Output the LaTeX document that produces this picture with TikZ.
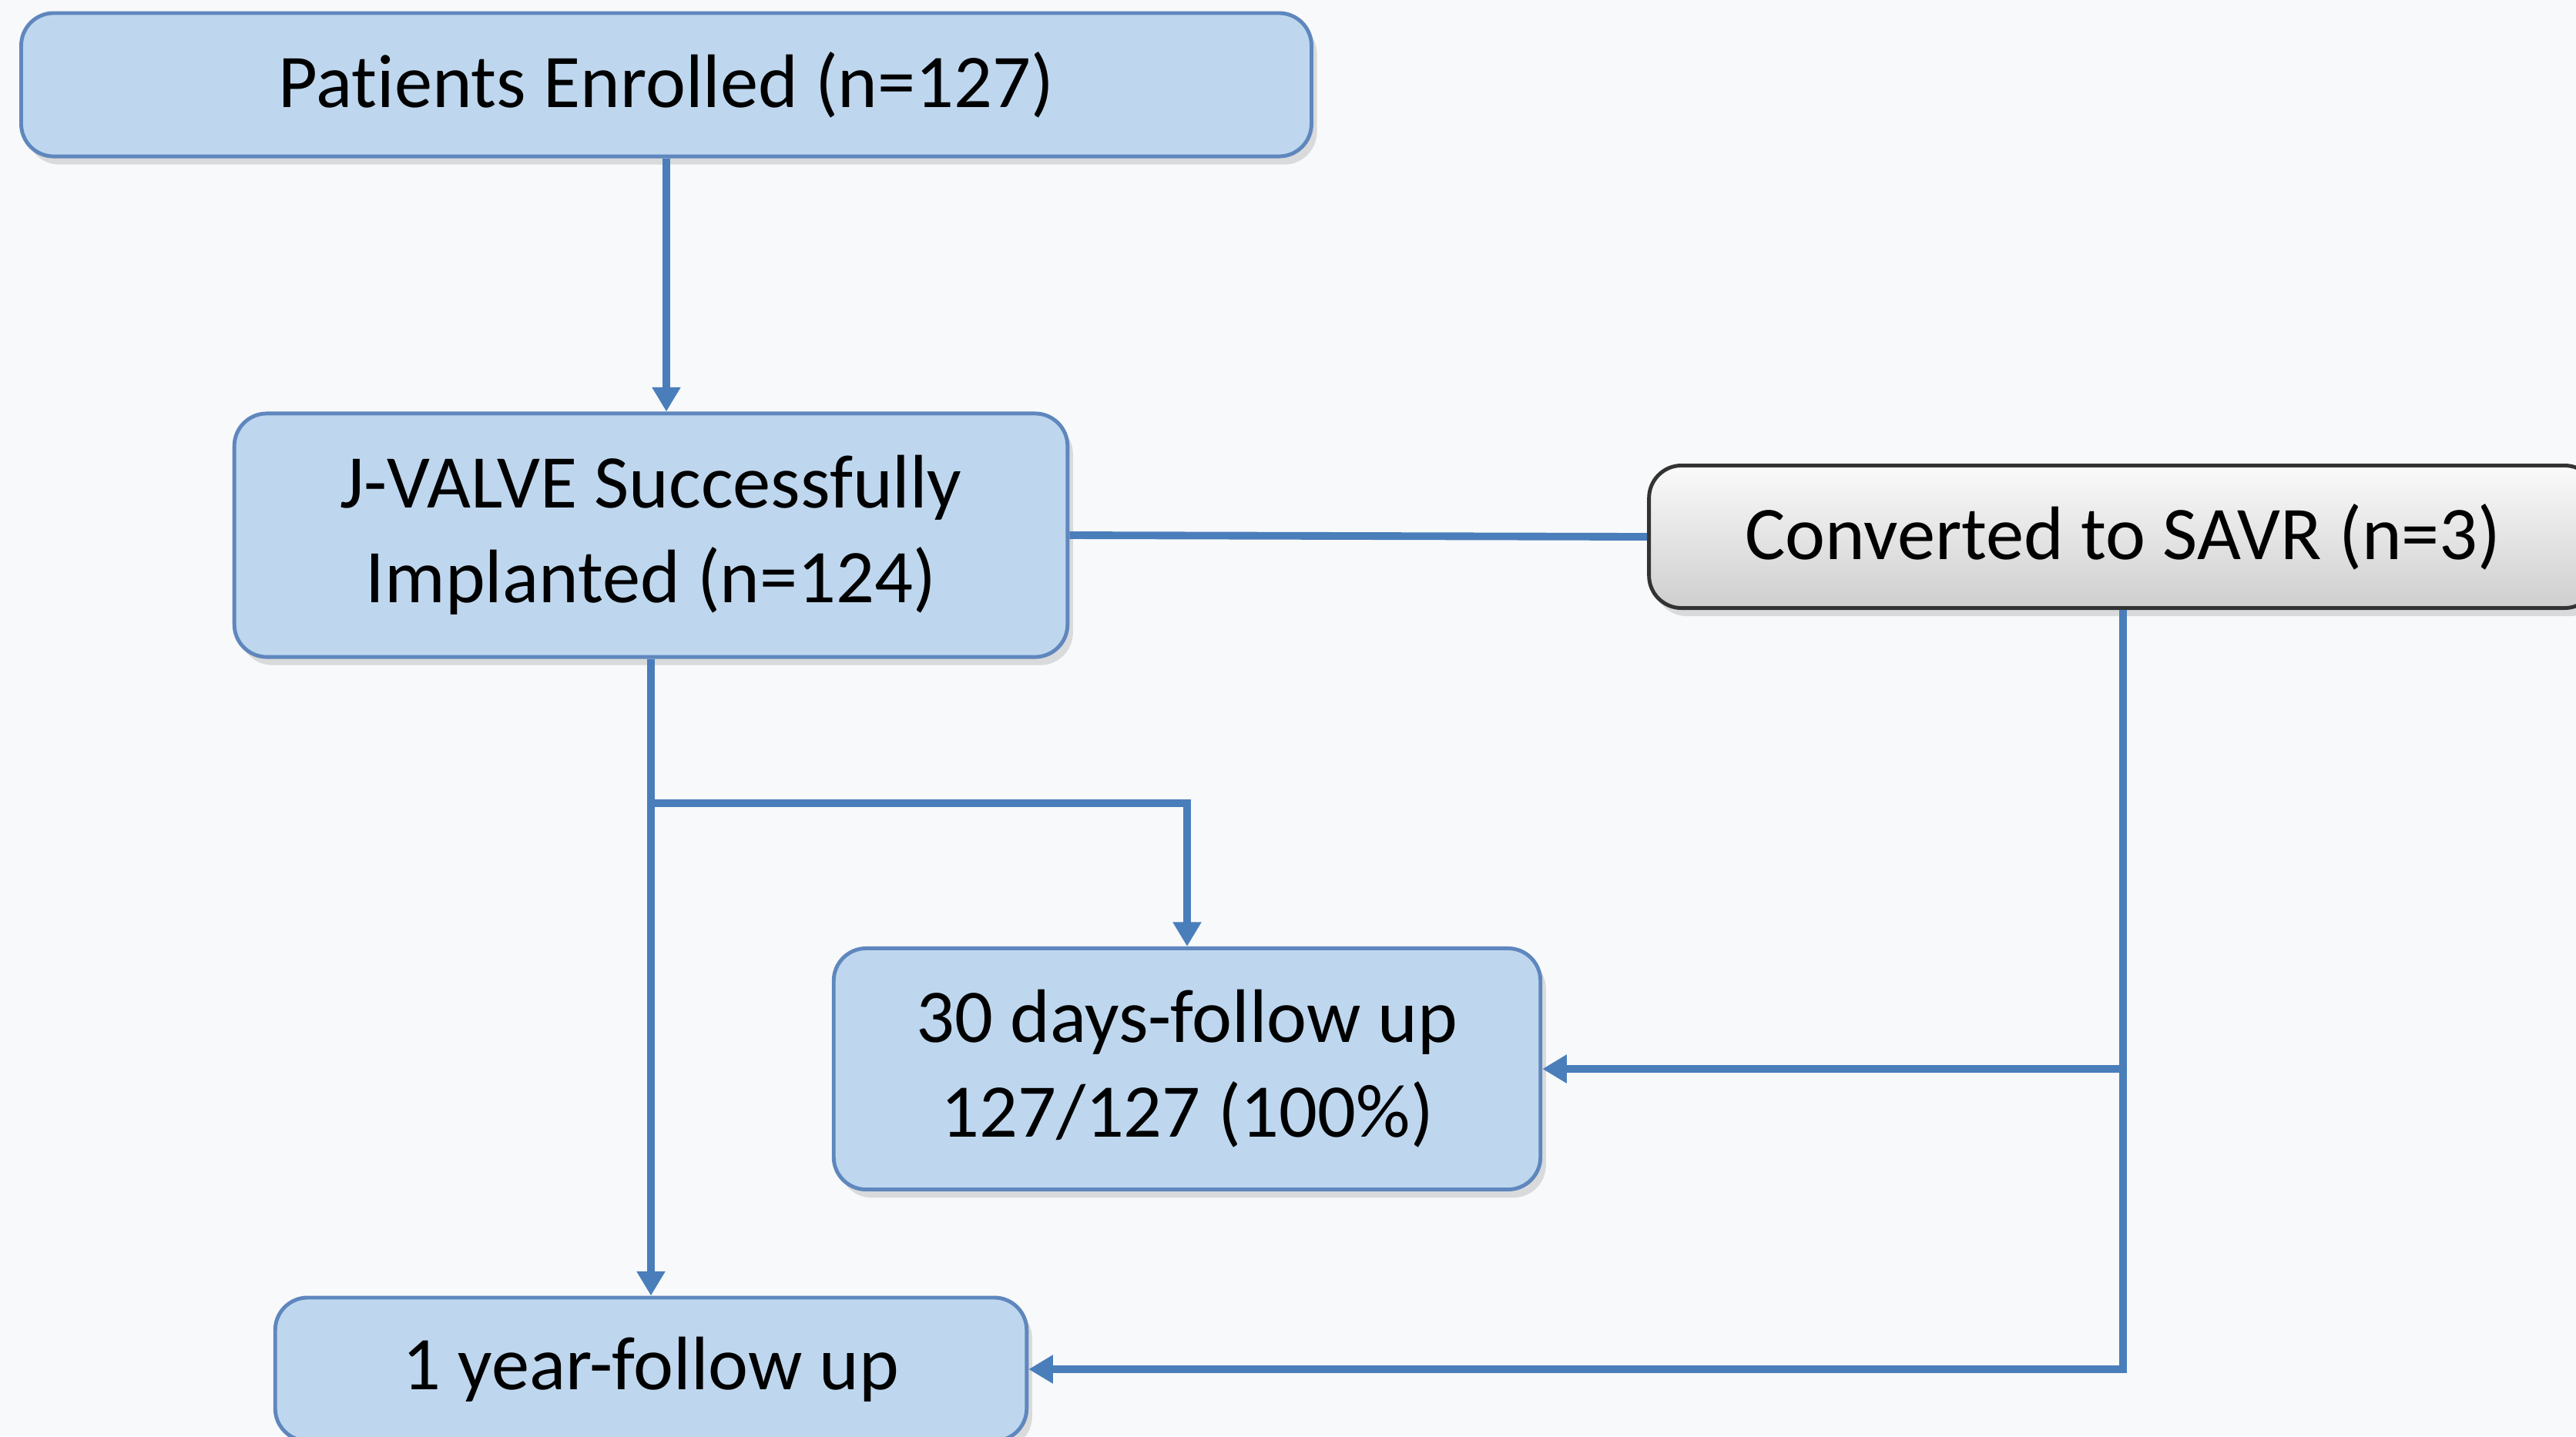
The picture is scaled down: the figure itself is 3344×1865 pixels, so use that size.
\documentclass[tikz,border=0pt]{standalone}
\usepackage{fontspec}
\setmainfont{Carlito}[Ligatures=CommonOff]
\usetikzlibrary{arrows.meta,shadows}
\definecolor{boxfill}{RGB}{190,215,238}
\definecolor{boxline}{RGB}{95,135,190}
\definecolor{flowline}{RGB}{74,126,187}
\definecolor{paper}{RGB}{248,249,250}
\begin{document}
\begin{tikzpicture}[x=0.01cm,y=-0.01cm,
    stagebox/.style={draw=boxline,line width=1.4pt,fill=boxfill,rounded corners=12pt,
      align=center,inner sep=0pt,font=\fontsize{28}{35}\selectfont,
      drop shadow={opacity=0.25,shadow xshift=2pt,shadow yshift=-3pt}},
    savrbox/.style={stagebox,draw=black!80,top color=gray!4,bottom color=gray!38},
    flow/.style={draw=flowline,line width=2.8pt},
    flowarrow/.style={flow,-{Triangle[length=9pt,width=10pt]}}]
  % Background
  \fill[paper] (0,0) rectangle (3344,1865);
  \useasboundingbox (0,0) rectangle (3344,1865);
  % Boxes
  \node[stagebox,minimum width=16.74cm,minimum height=1.86cm] (enrolled) at (865,110) {Patients Enrolled (n=127)};
  \node[stagebox,minimum width=10.81cm,minimum height=3.16cm] (implanted) at (845,695) {J-VALVE Successfully\\Implanted (n=124)};
  \node[savrbox,minimum width=12.30cm,minimum height=1.85cm] (savr) at (2756,697) {Converted to SAVR (n=3)};
  \node[stagebox,minimum width=9.17cm,minimum height=3.13cm] (d30) at (1541,1388) {30 days-follow up\\127/127 (100\%)};
  \node[stagebox,minimum width=9.75cm,minimum height=1.86cm] (y1) at (845,1778) {1 year-follow up};
  % Connectors
  \coordinate (split) at (849,1043);
  \draw[flowarrow] (enrolled.south) -- (enrolled.south |- implanted.north);
  \draw[flow] (implanted.east) -- (savr.west);
  \draw[flowarrow] (implanted.south) -- (implanted.south |- y1.north);
  \draw[flowarrow] (split) -| (d30.north);
  \draw[flowarrow] (savr.south) |- (y1.east);
  \draw[flowarrow] (savr.south |- d30.east) -- (d30.east);
\end{tikzpicture}
\end{document}
